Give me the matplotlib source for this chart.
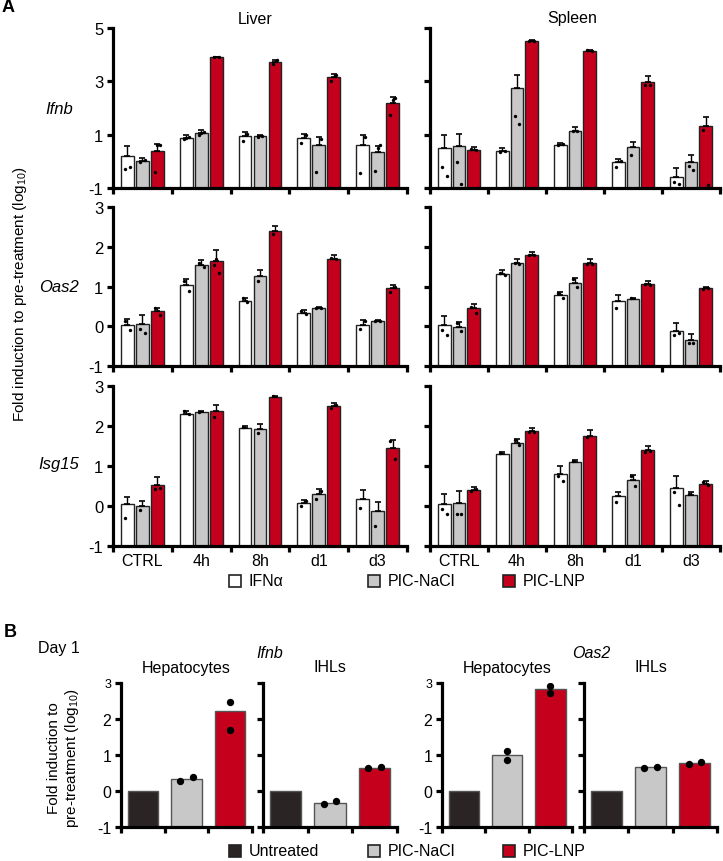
import matplotlib
matplotlib.use('Agg')
import matplotlib.pyplot as plt
import numpy as np
from matplotlib.patches import Rectangle

plt.rcParams['font.family'] = ['Liberation Sans', 'DejaVu Sans']
plt.rcParams['mathtext.fontset'] = 'custom'
plt.rcParams['mathtext.rm'] = 'Liberation Sans'
plt.rcParams['mathtext.it'] = 'Liberation Sans:italic'
plt.rcParams['axes.unicode_minus'] = False

# ---------------- data : panel A ----------------
groups = ['CTRL', '4h', '8h', 'd1', 'd3']
treat_a = ['IFNα', 'PIC-NaCl', 'PIC-LNP']

# rows: IFNα, PIC-NaCl, PIC-LNP ; columns: CTRL, 4h, 8h, d1, d3
ifnb_liver = [[0.19, 0.88, 0.94, 0.88, 0.62],
              [0.00, 1.06, 0.94, 0.63, 0.34],
              [0.40, 3.91, 3.72, 3.16, 2.18]]
ifnb_liver_sd = [[0.40, 0.09, 0.15, 0.15, 0.35],
                 [0.12, 0.10, 0.03, 0.30, 0.25],
                 [0.25, 0.02, 0.09, 0.13, 0.23]]
ifnb_liver_pts = [[[-0.30, -0.22], [0.85, 0.90, 0.88], [0.78, 1.03], [0.69, 1.00], [-0.44, 0.90]],
                  [[-0.04, 0.04], [0.98, 1.10, 1.05], [0.93, 0.95], [-0.41, 0.85], [-0.35, 0.60, 0.50]],
                  [[-0.41, 0.62, 0.60], [3.90, 3.92], [3.66, 3.80], [3.01, 3.25], [1.72, 2.37, 2.30]]]

ifnb_spleen = [[0.50, 0.37, 0.62, -0.04, -0.57],
               [0.58, 2.75, 1.13, 0.53, -0.04],
               [0.43, 4.51, 4.14, 2.97, 1.31]]
ifnb_spleen_sd = [[0.47, 0.13, 0.07, 0.13, 0.31],
                  [0.45, 0.47, 0.15, 0.21, 0.28],
                  [0.12, 0.03, 0.04, 0.23, 0.37]]
ifnb_spleen_pts = [[[-0.22, -0.54], [0.35, 0.40], [0.62, 0.65], [-0.20, 0.00], [-0.76, -0.86]],
                   [[-0.04, -0.85], [1.69, 1.41], [1.12, 1.15], [0.22], [-0.16, -0.31]],
                   [[0.45, 0.42], [4.52, 4.50], [4.16, 4.13], [2.87, 2.87], [1.18, -0.89]]]

oas2_liver = [[0.03, 1.05, 0.63, 0.34, 0.04],
              [0.05, 1.55, 1.26, 0.46, 0.13],
              [0.38, 1.64, 2.40, 1.70, 0.96]]
oas2_liver_sd = [[0.14, 0.13, 0.08, 0.06, 0.12],
                 [0.23, 0.11, 0.15, 0.02, 0.02],
                 [0.09, 0.27, 0.11, 0.08, 0.08]]
oas2_liver_pts = [[[0.13, -0.10], [1.15, 0.88], [0.70, 0.60], [0.38, 0.31], [-0.07, 0.13]],
                  [[-0.06, -0.17], [1.60, 1.49], [1.13], [0.46, 0.45], [0.12, 0.13]],
                  [[0.45, 0.29], [1.55, 1.35, 1.70], [2.31], [1.72, 1.70], [0.86, 1.00]]]

oas2_spleen = [[0.02, 1.32, 0.78, 0.63, -0.11],
               [-0.02, 1.60, 1.10, 0.69, -0.35],
               [0.45, 1.80, 1.59, 1.07, 0.95]]
oas2_spleen_sd = [[0.23, 0.09, 0.08, 0.15, 0.19],
                  [0.12, 0.10, 0.11, 0.02, 0.16],
                  [0.10, 0.08, 0.11, 0.07, 0.05]]
oas2_spleen_pts = [[[-0.10, -0.23], [1.33, 1.30], [0.83, 0.72], [0.46], [-0.21, -0.17]],
                   [[0.08, -0.13], [1.58, 1.56], [1.18, 1.00], [0.70], [-0.42, -0.42]],
                   [[0.49, 0.34], [1.80, 1.78], [1.56, 1.57], [1.06, 1.05], [0.93, 0.97]]]

isg15_liver = [[0.04, 2.30, 1.95, 0.07, 0.17],
               [0.00, 2.34, 1.92, 0.31, -0.13],
               [0.53, 2.37, 2.72, 2.49, 1.46]]
isg15_liver_sd = [[0.19, 0.08, 0.04, 0.08, 0.22],
                  [0.13, 0.04, 0.13, 0.11, 0.23],
                  [0.20, 0.16, 0.04, 0.08, 0.20]]
isg15_liver_pts = [[[-0.29], [2.37, 2.29], [1.97], [0.00, 0.12], [-0.04]],
                   [[-0.11], [2.36], [1.82], [0.17, 0.38], [-0.49]],
                   [[0.43, 0.45], [2.22], [2.74], [2.45, 2.52], [1.62, 1.17]]]

isg15_spleen = [[0.04, 1.30, 0.79, 0.24, 0.44],
                [0.07, 1.58, 1.11, 0.65, 0.28],
                [0.40, 1.87, 1.75, 1.40, 0.55]]
isg15_spleen_sd = [[0.25, 0.04, 0.20, 0.11, 0.30],
                   [0.31, 0.10, 0.04, 0.13, 0.06],
                   [0.08, 0.08, 0.15, 0.09, 0.07]]
isg15_spleen_pts = [[[-0.07, -0.21], [1.32], [0.74, 0.63], [0.11], [0.34, 0.02]],
                    [[-0.20, -0.20], [1.66, 1.53], [1.13], [0.75, 0.50], [0.30]],
                    [[0.38, 0.42], [1.85, 1.85], [1.72], [1.35, 1.37], [0.59, 0.52]]]

# ---------------- data : panel B ----------------
treat_b = ['Untreated', 'PIC-NaCl', 'PIC-LNP']
ifnb_hep = [0.0, 0.33, 2.22]
ifnb_hep_pts = [[], [0.28, 0.38], [2.47, 1.70]]
ifnb_ihl = [0.0, -0.33, 0.65]
ifnb_ihl_pts = [[], [-0.37, -0.27], [0.63, 0.67]]
oas2_hep = [0.0, 1.00, 2.82]
oas2_hep_pts = [[], [1.12, 0.87], [2.93, 2.72]]
oas2_ihl = [0.0, 0.66, 0.78]
oas2_ihl_pts = [[], [0.65, 0.67], [0.75, 0.80]]

RED = '#c4001c'
GREY = '#c8c8c8'
DARK = '#2b2424'
colors_a = ['white', GREY, RED]
colors_b = [DARK, GREY, RED]

W, H = 723, 862
fig = plt.figure(figsize=(W / 100, H / 100), dpi=100)


def fx(px):
    return px / W


def fy(py):
    return 1 - py / H


def add_ax(left, top, right, bottom):
    return fig.add_axes([fx(left), fy(bottom), (right - left) / W, (bottom - top) / H])


def style_ax(ax, ymin, ymax, yticks, ylabels, ngroups, xlabels=None, fs=12):
    ax.set_xlim(0, ngroups)
    ax.set_ylim(ymin, ymax)
    for s in ['top', 'right']:
        ax.spines[s].set_visible(False)
    for s in ['left', 'bottom']:
        ax.spines[s].set_linewidth(2.3)
    ax.set_yticks(yticks)
    if ylabels:
        ax.set_yticklabels([str(t) for t in yticks])
    else:
        ax.set_yticklabels([])
    ax.set_xticks(range(ngroups + 1))
    ax.set_xticklabels([])
    ax.tick_params(axis='both', which='major', width=2.3, length=4, labelsize=fs, pad=3)
    if xlabels is not None:
        ax.set_xticks(np.arange(ngroups) + 0.5, minor=True)
        ax.set_xticklabels(xlabels, minor=True)
        ax.tick_params(axis='x', which='minor', length=0, labelsize=11.5, pad=5)


def draw_a(ax, means, sds, pts, ymin):
    offs = [-0.255, 0.0, 0.255]
    jit = np.array([-0.04, 0.04, 0.0])
    for k in range(3):
        x = np.arange(5) + 0.5 + offs[k]
        m = np.array(means[k])
        ax.bar(x, m - ymin, bottom=ymin, width=0.22, color=colors_a[k],
               edgecolor='#222222', linewidth=1.0, zorder=2)
        ax.errorbar(x, m, yerr=[np.zeros(5), sds[k]], fmt='none', ecolor='black',
                    elinewidth=1.0, capsize=2, capthick=1.2, zorder=3)
        for i, p in enumerate(pts[k]):
            ax.scatter(x[i] + jit[:len(p)], p, s=6, c='black', linewidths=0, zorder=4)


# ---------------- panel A ----------------
rows_top = [29, 208, 387]
rows_bot = [189, 367, 547]
panel_rows = [
    (ifnb_liver, ifnb_liver_sd, ifnb_liver_pts, ifnb_spleen, ifnb_spleen_sd, ifnb_spleen_pts,
     5, [-1, 1, 3, 5], 'Ifnb', 110),
    (oas2_liver, oas2_liver_sd, oas2_liver_pts, oas2_spleen, oas2_spleen_sd, oas2_spleen_pts,
     3, [-1, 0, 1, 2, 3], 'Oas2', 288),
    (isg15_liver, isg15_liver_sd, isg15_liver_pts, isg15_spleen, isg15_spleen_sd, isg15_spleen_pts,
     3, [-1, 0, 1, 2, 3], 'Isg15', 465),
]
for r, (lm, ls, lp, sm, ss, sp, ymax, yt, gene, gy) in enumerate(panel_rows):
    last = r == 2
    axl = add_ax(113, rows_top[r], 407, rows_bot[r])
    draw_a(axl, lm, ls, lp, -1)
    style_ax(axl, -1, ymax, yt, True, 5, groups if last else None)
    axs = add_ax(430, rows_top[r], 720, rows_bot[r])
    draw_a(axs, sm, ss, sp, -1)
    style_ax(axs, -1, ymax, yt, False, 5, groups if last else None)
    fig.text(fx(59), fy(gy), gene, style='italic', ha='center', va='center', fontsize=12)

fig.text(fx(255), fy(19), 'Liver', ha='center', va='center', fontsize=11.5)
fig.text(fx(572), fy(19), 'Spleen', ha='center', va='center', fontsize=11.5)
fig.text(fx(20), fy(294), 'Fold induction to pre-treatment (log$_{10}$)', rotation=90,
         ha='center', va='center', fontsize=11)
fig.text(fx(2), fy(8), 'A', fontsize=13, fontweight='bold', ha='left', va='center')


def legend_row(y, labels, fcs):
    for xb, lab, c in zip([229, 368, 503], labels, fcs):
        fig.add_artist(Rectangle((fx(xb), fy(y + 6)), 12 / W, 12 / H, transform=fig.transFigure,
                                 facecolor=c, edgecolor='#222222', linewidth=1.2))
        fig.text(fx(xb + 20), fy(y), lab, ha='left', va='center', fontsize=11.5)


legend_row(582, treat_a, colors_a)

# ---------------- panel B ----------------
fig.text(fx(4), fy(633), 'B', fontsize=13, fontweight='bold', ha='left', va='center')
fig.text(fx(38), fy(649), 'Day 1', ha='left', va='center', fontsize=11.5)
fig.text(fx(270), fy(654), 'Ifnb', style='italic', ha='center', va='center', fontsize=11.5)
fig.text(fx(591), fy(654), 'Oas2', style='italic', ha='center', va='center', fontsize=11.5)

b_panels = [
    (121, 252, ifnb_hep, ifnb_hep_pts, 'Hepatocytes', True),
    (263, 397, ifnb_ihl, ifnb_ihl_pts, 'IHLs', False),
    (442, 572, oas2_hep, oas2_hep_pts, 'Hepatocytes', True),
    (584, 717, oas2_ihl, oas2_ihl_pts, 'IHLs', False),
]
for left, right, vals, pts, title, lab in b_panels:
    ax = add_ax(left, 684, right, 828)
    x = np.arange(3) + 0.5
    ax.bar(x, np.array(vals) + 1, bottom=-1, width=0.7, color=colors_b,
           edgecolor='#555555', linewidth=1.0, zorder=2)
    for i, p in enumerate(pts):
        if len(p) == 2 and abs(p[0] - p[1]) < 0.2:
            xs = x[i] + np.array([-0.14, 0.14])
        else:
            xs = np.full(len(p), x[i])
        ax.scatter(xs, p, s=28, c='black', linewidths=0, zorder=4)
    style_ax(ax, -1, 3, [-1, 0, 1, 2, 3], lab, 3, fs=11.5)
    if lab:
        ax.get_yticklabels()[-1].set_fontsize(9)
    fig.text(fx((left + right) / 2), fy(668), title, ha='center', va='center', fontsize=11.5)

fig.text(fx(64), fy(758), 'Fold induction to\npre-treatment (log$_{10}$)', rotation=90,
         ha='center', va='center', fontsize=11, linespacing=1.1)

legend_row(852, treat_b, colors_b)

plt.savefig('out.png', dpi=100)
